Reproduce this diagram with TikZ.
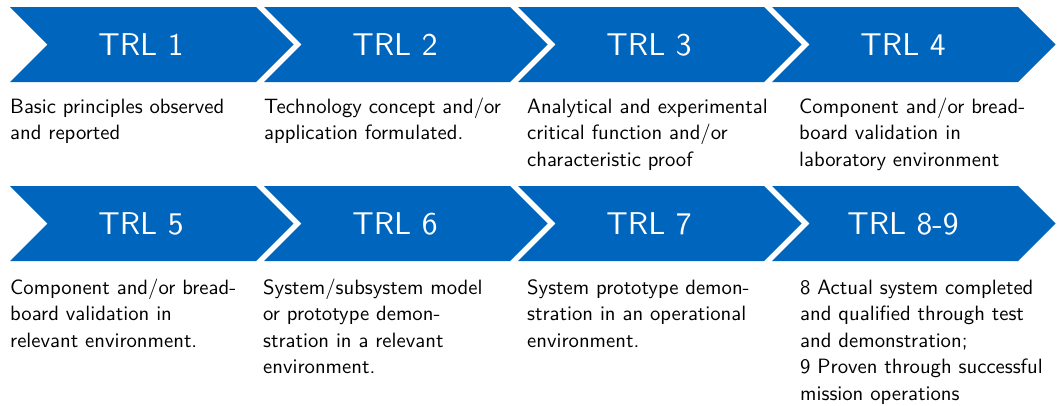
\documentclass[tikz,border=0pt]{standalone}
\usepackage{fontspec}
\newfontfamily\trlsans{lmsans10-regular.otf}
\definecolor{trlblue}{HTML}{0065BD}
% multi-line descriptions are placed by the baseline of their last line
\tikzset{
  chevron/.pic={\fill[trlblue] (0,0) -- (246,0) -- (283.5,37.5) -- (246,75) -- (0,75) -- (37.5,37.5) -- cycle;},
  trltitle/.style={text=white, inner sep=0pt, anchor=center, font=\trlsans\fontsize{31.5}{37}\selectfont},
  trldesc/.style={anchor=base west, inner sep=0pt, align=left, text=black,
    font=\trlsans\fontsize{20.7}{26.4}\selectfont}
}
\begin{document}
\begin{tikzpicture}[x=1pt,y=-1pt]
\useasboundingbox (0,0) rectangle (1057,405);

% first row of levels (first text line at 113.3)
\pic at (10,7) {chevron};
\pic at (264,7) {chevron};
\pic at (518,7) {chevron};
\pic at (772,7) {chevron};
\node[trltitle] (t1) at (141,44.5) {TRL 1};
\node[trltitle] (t2) at (395,44.5) {TRL 2};
\node[trltitle] (t3) at (649,44.5) {TRL 3};
\node[trltitle] (t4) at (903,44.5) {TRL 4};
\node[trldesc] (d1) at (10,139.7) {Basic principles observed\\and reported};
\node[trldesc] (d2) at (264,139.7) {Technology concept and/or\\application formulated.};
\node[trldesc] (d3) at (527,166.1) {Analytical and experimental\\critical function and/or\\characteristic proof};
\node[trldesc] (d4) at (799,166.1) {Component and/or bread-\\board validation in\\laboratory environment};

% second row of levels (first text line at 294.5)
\pic at (10,186) {chevron};
\pic at (264,186) {chevron};
\pic at (518,186) {chevron};
\pic at (772,186) {chevron};
\node[trltitle] (t5) at (141,223.5) {TRL 5};
\node[trltitle] (t6) at (395,223.5) {TRL 6};
\node[trltitle] (t7) at (649,223.5) {TRL 7};
\node[trltitle] (t8) at (903,223.5) {TRL 8-9};
\node[trldesc] (d5) at (10,347.3) {Component and/or bread-\\board validation in\\relevant environment.};
\node[trldesc] (d6) at (263,373.7) {System/subsystem model\\or prototype demon-\\stration in a relevant\\environment.};
\node[trldesc] (d7) at (527,347.3) {System prototype demon-\\stration in an operational\\environment.};
\node[trldesc] (d8) at (800,400.1) {8 Actual system completed\\and qualified through test\\and demonstration;\\9 Proven through successful\\mission operations};
\end{tikzpicture}
\end{document}
